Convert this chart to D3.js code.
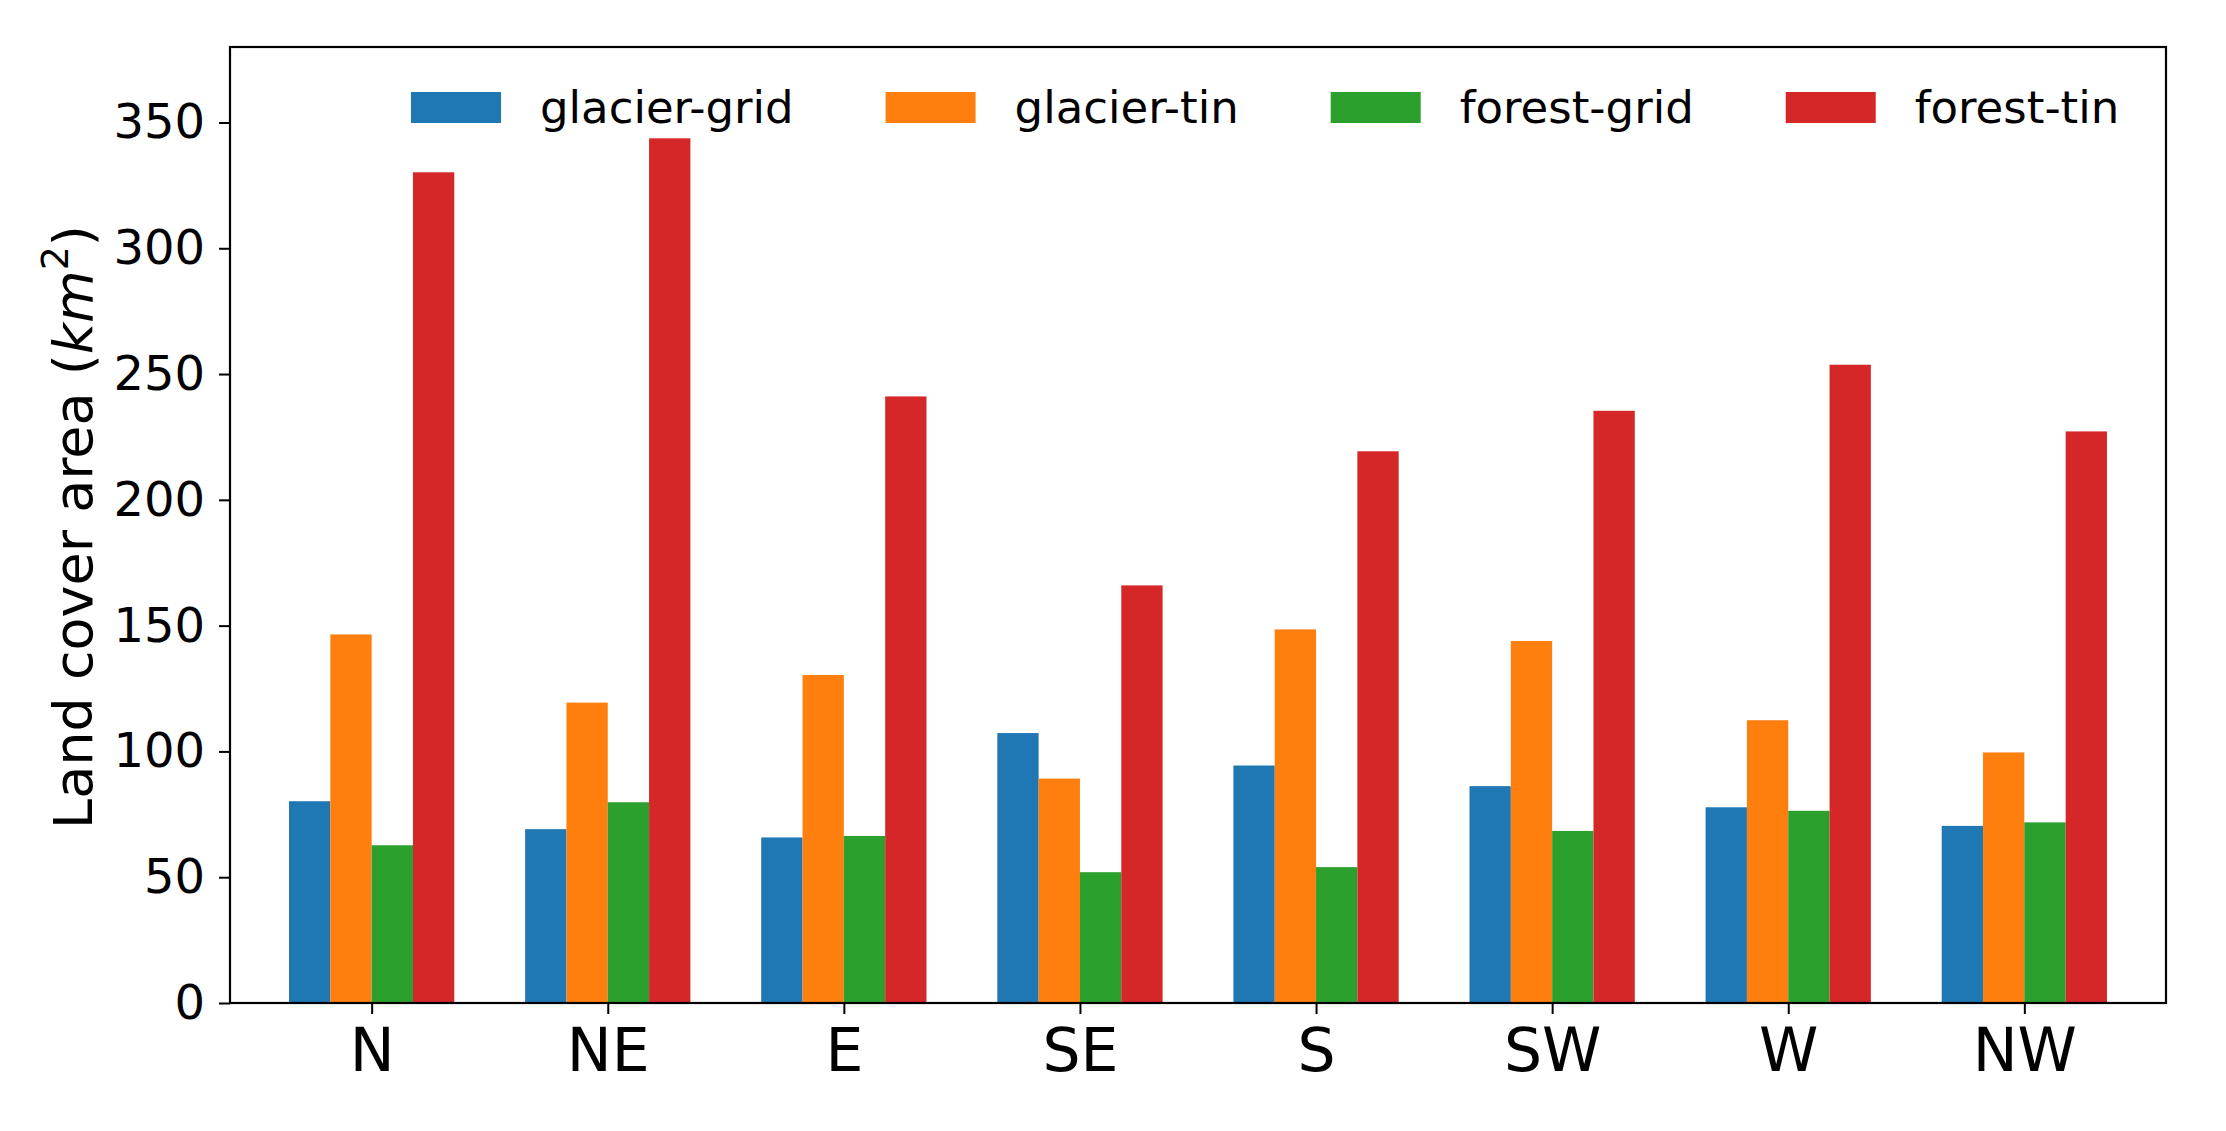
<!DOCTYPE html>
<html>
<head>
<meta charset="utf-8">
<script src="https://cdn.jsdelivr.net/npm/d3@7"></script>
<style>
  body { margin: 0; background: #fff; }
  svg { display: block; font-family: "DejaVu Sans", sans-serif; }
</style>
</head>
<body>
<svg id="chart" width="2226" height="1131"></svg>
<script>
// ─── Datos ────────────────────────────────────────────────────────────────────
const directions = ['N', 'NE', 'E', 'SE', 'S', 'SW', 'W', 'NW'];
const seriesNames = ['glacier-grid', 'glacier-tin', 'forest-grid', 'forest-tin'];
const glacierGrid = [80.2, 69.1, 65.8, 107.3, 94.4, 86.2, 77.8, 70.4];
const glacierTin  = [146.5, 119.4, 130.4, 89.2, 148.5, 143.9, 112.4, 99.6];
const forestGrid  = [62.7, 79.8, 66.4, 52.0, 54.0, 68.4, 76.4, 71.8];
const forestTin   = [330.2, 343.7, 241.1, 166.0, 219.3, 235.4, 253.7, 227.2];
const yTicks = [0, 50, 100, 150, 200, 250, 300, 350];

const seriesValues = [glacierGrid, glacierTin, forestGrid, forestTin];
const colors = ['#1f77b4', '#ff7f0e', '#2ca02c', '#d62728'];

// ─── Geometría ────────────────────────────────────────────────────────────────
const m = { left: 230, right: 2166, top: 47, bottom: 1003 };
const barW = 0.175; // ancho de barra en unidades de categoría

const svg = d3.select('#chart');

const x = d3.scaleLinear().domain([-0.6, directions.length - 0.4]).range([m.left, m.right]);
const y = d3.scaleLinear().domain([0, 380]).range([m.bottom, m.top]);

// Barras
seriesValues.forEach((vals, s) => {
  svg.append('g').selectAll('rect')
    .data(vals)
    .join('rect')
    .attr('x', (d, i) => x(i + (s - 2) * barW))
    .attr('width', x(barW) - x(0))
    .attr('y', d => y(d))
    .attr('height', d => y(0) - y(d))
    .attr('fill', colors[s]);
});

// Ejes
const yAxis = d3.axisLeft(y).tickValues(yTicks).tickSize(11).tickPadding(14);
const xAxis = d3.axisBottom(x).tickValues(d3.range(directions.length))
  .tickFormat(i => directions[i]).tickSize(11).tickPadding(14);

const gy = svg.append('g').attr('transform', `translate(${m.left},0)`).call(yAxis);
gy.select('.domain').remove();
gy.selectAll('line').attr('stroke', '#000').attr('stroke-width', 2);
gy.selectAll('text').attr('font-size', 48).attr('fill', '#000')
  .attr('font-family', '"DejaVu Sans", sans-serif');

const gx = svg.append('g').attr('transform', `translate(0,${m.bottom})`).call(xAxis);
gx.select('.domain').remove();
gx.selectAll('line').attr('stroke', '#000').attr('stroke-width', 2);
gx.selectAll('text').attr('font-size', 60).attr('fill', '#000')
  .attr('font-family', '"DejaVu Sans", sans-serif');

// Marco
svg.append('rect')
  .attr('x', m.left).attr('y', m.top)
  .attr('width', m.right - m.left).attr('height', m.bottom - m.top)
  .attr('fill', 'none').attr('stroke', '#000').attr('stroke-width', 2.2);

// Etiqueta del eje Y
const yl = svg.append('text')
  .attr('transform', `translate(92,${(m.top + m.bottom) / 2 + 2}) rotate(-90)`)
  .attr('text-anchor', 'middle')
  .attr('font-size', 54)
  .attr('fill', '#000');
yl.append('tspan').text('Land cover area (');
yl.append('tspan').attr('font-style', 'italic').text('km');
yl.append('tspan').attr('font-size', 38).attr('dy', -24).text('2');
yl.append('tspan').attr('dy', 24).text(')');

// Leyenda
const legend = svg.append('g');
let lx = 411;
seriesNames.forEach((name, i) => {
  legend.append('rect')
    .attr('x', lx).attr('y', 92)
    .attr('width', 90).attr('height', 31)
    .attr('fill', colors[i]);
  const t = legend.append('text')
    .attr('x', lx + 129).attr('y', 123)
    .attr('font-size', 45).attr('fill', '#000')
    .text(name);
  lx += 129 + t.node().getComputedTextLength() + 92;
});
</script>
</body>
</html>
